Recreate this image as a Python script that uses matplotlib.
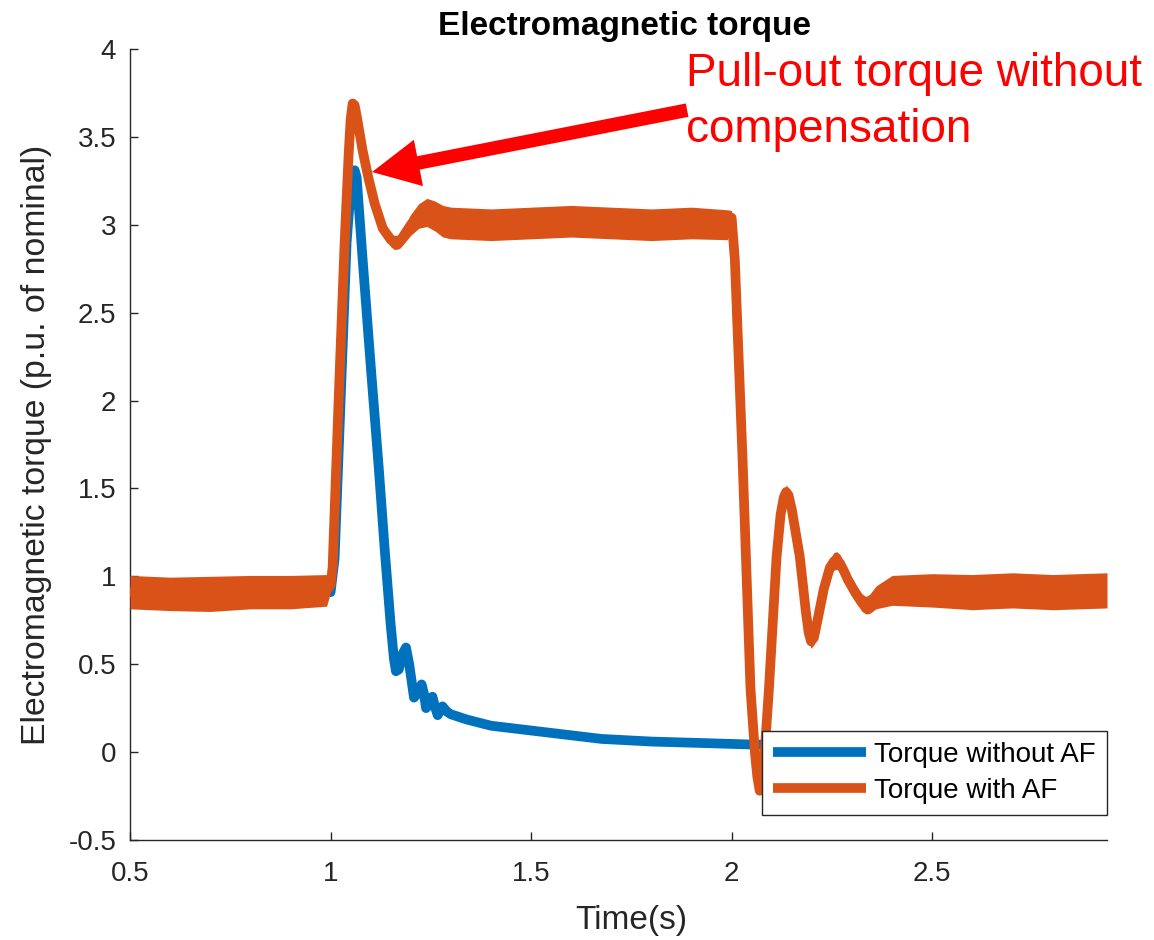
import matplotlib
matplotlib.use("Agg")
import matplotlib.pyplot as plt

plt.rcParams['font.family'] = ['Liberation Sans', 'DejaVu Sans']

# Torque without AF (blue)
t_blue = [0.5, 1.0, 1.01, 1.025, 1.04, 1.05, 1.056, 1.06, 1.065, 1.08, 1.10, 1.12,
          1.135, 1.15, 1.158, 1.163, 1.17, 1.18, 1.188, 1.196, 1.208, 1.218, 1.227,
          1.233, 1.238, 1.246, 1.254, 1.26, 1.267, 1.273, 1.279, 1.29, 1.30, 1.34,
          1.40, 1.51, 1.675, 1.80, 1.95, 2.05, 2.20, 2.5, 2.936]
torque_blue = [0.91, 0.91, 1.1, 2.0, 2.9, 3.2, 3.29, 3.31, 3.27, 2.80, 2.20, 1.62,
               1.15, 0.72, 0.53, 0.46, 0.47, 0.56, 0.595, 0.50, 0.31, 0.34, 0.385,
               0.33, 0.25, 0.28, 0.315, 0.26, 0.21, 0.235, 0.26, 0.23, 0.215, 0.185,
               0.15, 0.12, 0.075, 0.06, 0.05, 0.043, 0.04, 0.035, 0.03]

# Torque with AF (orange): centre line and half-width of the noise band
t_orange = [0.5, 0.6, 0.7, 0.8, 0.9, 0.99, 1.0, 1.005, 1.02, 1.035, 1.045, 1.05,
            1.055, 1.06, 1.065, 1.08, 1.095, 1.11, 1.13, 1.15, 1.158, 1.165, 1.172,
            1.18, 1.2, 1.22, 1.24, 1.26, 1.28, 1.30, 1.4, 1.5, 1.6, 1.7, 1.8, 1.9,
            1.99, 2.0, 2.008, 2.027, 2.047, 2.058, 2.064, 2.07, 2.075, 2.08, 2.093,
            2.112, 2.122, 2.13, 2.136, 2.142, 2.15, 2.17, 2.185, 2.192, 2.198,
            2.205, 2.215, 2.23, 2.245, 2.255, 2.262, 2.27, 2.28, 2.29, 2.31,
            2.325, 2.335, 2.345, 2.36, 2.4, 2.5, 2.6, 2.7, 2.8, 2.936]
torque_orange = [0.91, 0.90, 0.90, 0.91, 0.91, 0.92, 0.95, 1.05, 2.0, 2.9, 3.4, 3.6,
                 3.69, 3.68, 3.62, 3.42, 3.26, 3.12, 2.98, 2.915, 2.90, 2.90, 2.905,
                 2.93, 3.0, 3.05, 3.07, 3.05, 3.02, 3.01, 3.0, 3.01, 3.02, 3.01, 3.0,
                 3.01, 3.0, 3.04, 2.8, 1.68, 0.36, 0.0, -0.14, -0.22, -0.2, -0.08, 0.36,
                 1.11, 1.35, 1.45, 1.48, 1.46, 1.38, 1.11, 0.80, 0.68, 0.63,
                 0.65, 0.76, 0.93, 1.05, 1.085, 1.09, 1.075, 1.03, 0.98, 0.90,
                 0.85, 0.835, 0.845, 0.88, 0.92, 0.92, 0.91, 0.92, 0.91, 0.92]
spread_orange = [0.095, 0.095, 0.1, 0.095, 0.095, 0.09, 0.04, 0.02, 0.02, 0.02, 0.02, 0.02,
                 0.02, 0.02, 0.02, 0.02, 0.02, 0.02, 0.03, 0.04, 0.04, 0.04, 0.04,
                 0.045, 0.06, 0.07, 0.08, 0.085, 0.09, 0.09, 0.09, 0.09, 0.09,
                 0.09, 0.09, 0.09, 0.085, 0.04, 0.02, 0.02, 0.02, 0.02, 0.02,
                 0.02, 0.02, 0.02, 0.02, 0.02, 0.02, 0.03, 0.04, 0.04, 0.04,
                 0.03, 0.03, 0.04, 0.04, 0.04, 0.04, 0.05, 0.05, 0.05, 0.05,
                 0.05, 0.05, 0.05, 0.05, 0.05, 0.05, 0.055, 0.065, 0.085, 0.095,
                 0.1, 0.1, 0.1, 0.1]

x_ticks = [0.5, 1, 1.5, 2, 2.5]
x_tick_labels = ['0.5', '1', '1.5', '2', '2.5']
y_ticks = [-0.5, 0, 0.5, 1, 1.5, 2, 2.5, 3, 3.5, 4]
y_tick_labels = ['-0.5', '0', '0.5', '1', '1.5', '2', '2.5', '3', '3.5', '4']

blue = '#0072BD'
orange = '#D95319'
dark = '#262626'

fig = plt.figure(figsize=(11.54, 9.4), dpi=100)
ax = fig.add_axes([0.1127, 0.1064, 0.8466, 0.8415])

ax.plot(t_blue, torque_blue, color=blue, lw=7, label='Torque without AF',
        solid_joinstyle='round', solid_capstyle='butt', zorder=2)
lower = [c - s for c, s in zip(torque_orange, spread_orange)]
upper = [c + s for c, s in zip(torque_orange, spread_orange)]
ax.fill_between(t_orange, lower, upper, color=orange, lw=0, zorder=3)
ax.plot(t_orange, torque_orange, color=orange, lw=7, label='Torque with AF',
        solid_joinstyle='round', solid_capstyle='butt', zorder=3)

ax.set_xlim(0.5, 2.936)
ax.set_ylim(-0.5, 4)
ax.set_xticks(x_ticks)
ax.set_xticklabels(x_tick_labels)
ax.set_yticks(y_ticks)
ax.set_yticklabels(y_tick_labels)
ax.tick_params(direction='in', length=6, width=1, colors=dark, labelsize=20)
ax.tick_params(axis='x', pad=15)
ax.tick_params(axis='y', pad=10)
for side in ['top', 'right']:
    ax.spines[side].set_visible(False)
for side in ['left', 'bottom']:
    ax.spines[side].set_color(dark)
    ax.spines[side].set_linewidth(1)

ax.set_xlabel('Time(s)', fontsize=24, color=dark)
ax.xaxis.set_label_coords(0.513, -0.082)
ax.set_ylabel('Electromagnetic torque (p.u. of nominal)', fontsize=24.3, color=dark)
ax.yaxis.set_label_coords(-0.08, 0.5)
ax.text(0.506, 1.0177, 'Electromagnetic torque', transform=ax.transAxes,
        ha='center', va='baseline', fontsize=24, fontweight='bold', color='black')

leg = ax.legend(loc='lower right', bbox_to_anchor=(1.0, 0.0316), borderaxespad=0,
                fontsize=20, handlelength=3.35, handletextpad=0.3, labelspacing=0.35,
                borderpad=0.4, fancybox=False, framealpha=1, edgecolor=dark)
leg.get_frame().set_linewidth(1)

ax.annotate('', xy=(1.1035, 3.30), xytext=(1.889, 3.652),
            arrowprops=dict(facecolor='red', edgecolor='none', width=9.8,
                            headwidth=34, headlength=34, shrink=0), zorder=5)
ax.text(0.569, 0.996, 'Pull-out torque without\ncompensation', transform=ax.transAxes,
        ha='left', va='top', fontsize=33, color='red', linespacing=1.35, clip_on=False)

fig.savefig('out.png', dpi=100, facecolor='white')
